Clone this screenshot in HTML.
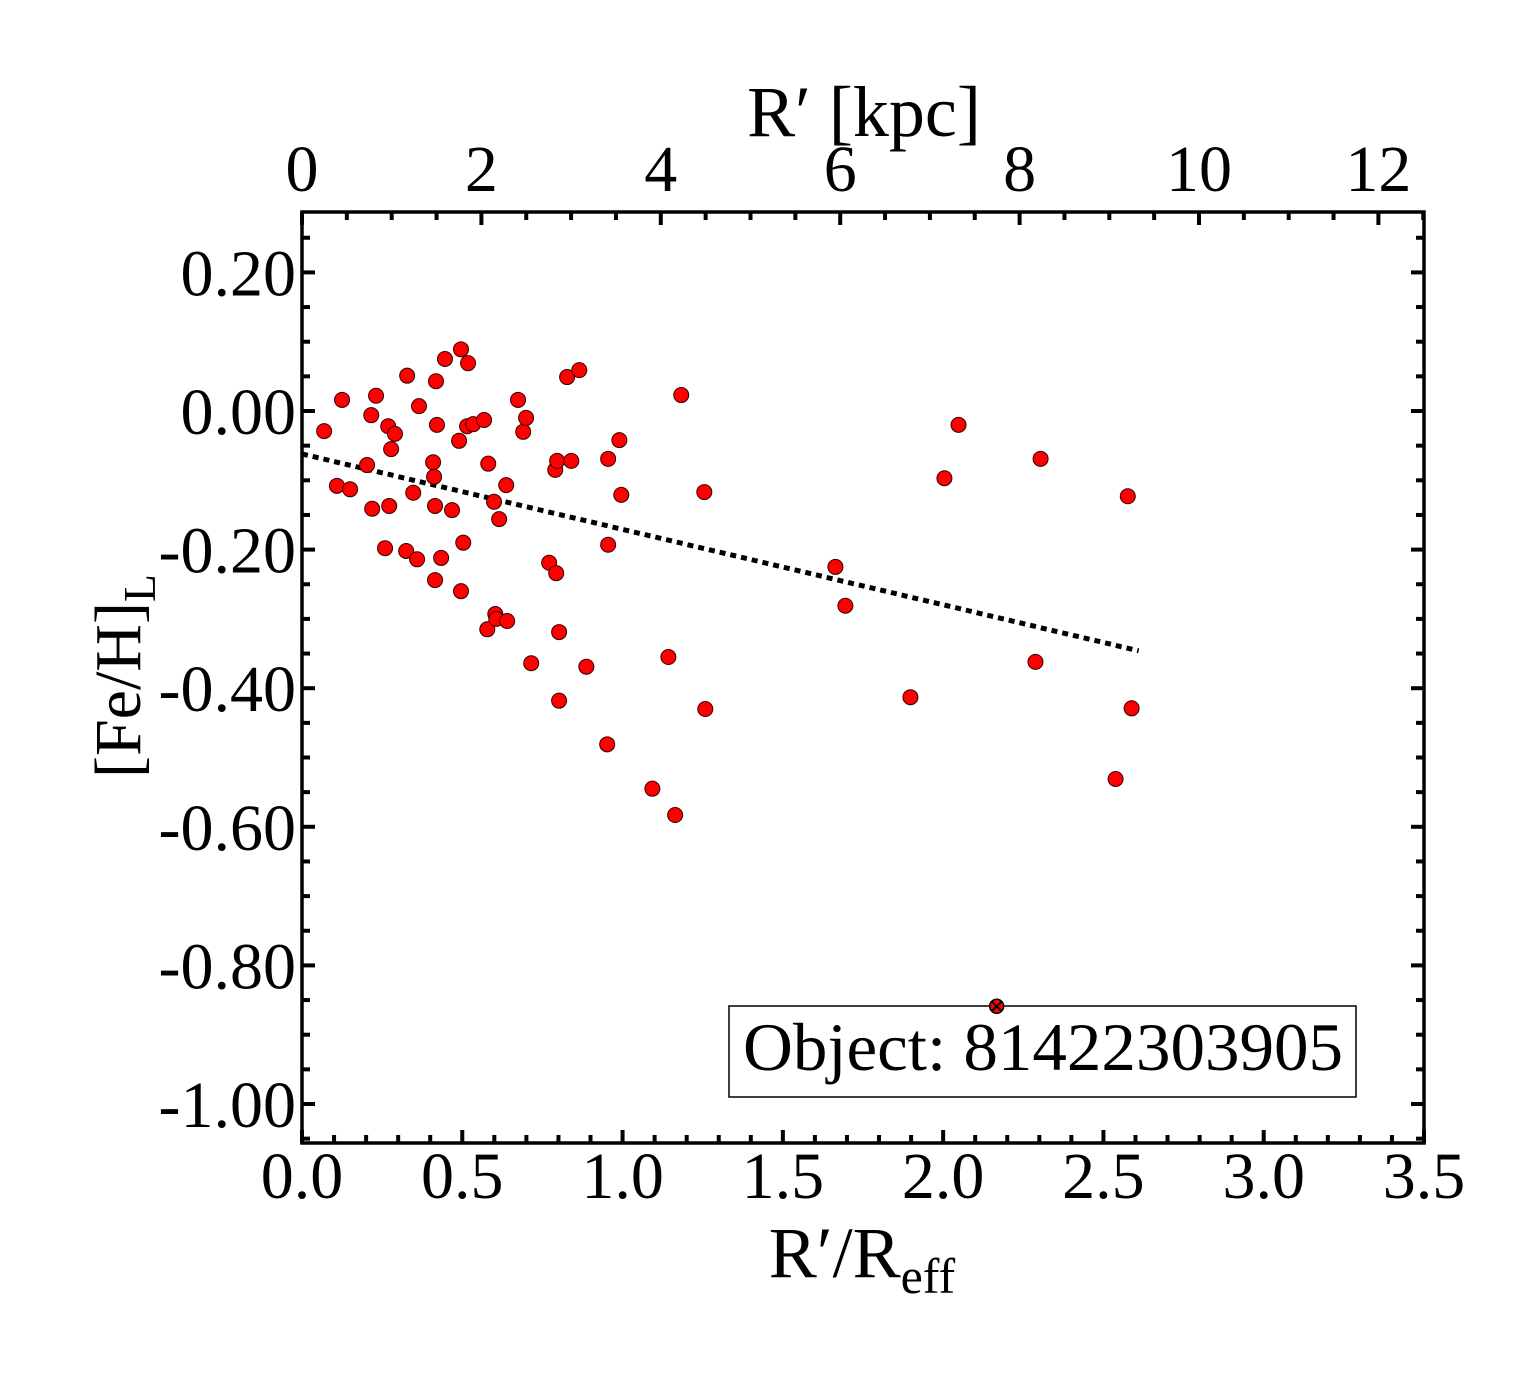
<!DOCTYPE html>
<html><head><meta charset="utf-8"><style>
html,body{margin:0;padding:0;background:#fff;}
svg{display:block;font-family:"Liberation Serif",serif;}
</style></head><body>
<svg id="chart" width="1540" height="1375" viewBox="0 0 1540 1375" xmlns="http://www.w3.org/2000/svg">
<rect width="1540" height="1375" fill="#fff"/>
<g id="ticks"></g>
<g id="labels" font-size="66" fill="#000"></g>
<g>
<rect x="729" y="1006" width="627" height="91" fill="#fff" stroke="#000" stroke-width="1.5"/>
<text x="743" y="1070" font-size="68" textLength="600" lengthAdjust="spacingAndGlyphs">Object: 81422303905</text>
</g>
<g id="trend"></g>
<g id="points"></g>
<rect x="302" y="212" width="1122" height="931" fill="none" stroke="#000" stroke-width="3.5"/>
<text x="864" y="136" font-size="72" text-anchor="middle">R′ [kpc]</text>
<text x="862" y="1277" font-size="72" text-anchor="middle">R′/R<tspan font-size="50" dy="16">eff</tspan></text>
<text transform="translate(140,676) rotate(-90)" font-size="66" text-anchor="middle">[Fe/H]<tspan font-size="46" dy="15">L</tspan></text>
</svg>
<script>
const xVals=[0.069,0.109,0.125,0.150,0.203,0.216,0.219,0.231,0.259,0.269,0.272,0.278,0.290,0.325,0.328,0.347,0.359,0.365,0.409,0.412,0.415,0.415,0.418,0.421,0.434,0.446,0.468,0.490,0.496,0.496,0.503,0.515,0.518,0.534,0.568,0.578,0.581,0.599,0.603,0.606,0.615,0.637,0.640,0.674,0.690,0.699,0.715,0.771,0.790,0.793,0.796,0.802,0.802,0.827,0.840,0.865,0.887,0.952,0.955,0.955,0.990,0.996,1.093,1.143,1.164,1.183,1.255,1.258,1.664,1.695,1.898,2.004,2.048,2.288,2.304,2.538,2.576,2.588];
const yVals=[-0.029,-0.108,0.016,-0.113,-0.078,-0.006,-0.141,0.022,-0.198,-0.022,-0.137,-0.055,-0.033,-0.202,0.051,-0.118,-0.214,0.007,-0.074,-0.095,-0.244,-0.137,0.043,-0.020,-0.212,0.075,-0.143,-0.043,0.089,-0.260,-0.190,-0.022,0.069,-0.019,-0.013,-0.315,-0.076,-0.131,-0.293,-0.300,-0.156,-0.107,-0.303,0.016,-0.030,-0.010,-0.364,-0.219,-0.085,-0.234,-0.072,-0.319,-0.418,0.049,-0.072,0.059,-0.369,-0.481,-0.069,-0.193,-0.042,-0.121,-0.545,-0.355,-0.583,0.023,-0.117,-0.430,-0.225,-0.281,-0.413,-0.097,-0.020,-0.362,-0.069,-0.531,-0.123,-0.429];
const outlierX=[2.167];
const outlierY=[-0.859];
const trendX=[0,2.61];
const trendY=[-0.062,-0.346];
const xTickLabels=["0.0","0.5","1.0","1.5","2.0","2.5","3.0","3.5"];
const topTickLabels=["0","2","4","6","8","10","12"];
const yTickLabels=["0.20","0.00","-0.20","-0.40","-0.60","-0.80","-1.00"];

const L=302,R=1424,T=212,B=1143;
const sx=v=>L+v*(R-L)/3.5;
const skpc=v=>L+v*89.7;
const sy=v=>411-v*693;
const NS="http://www.w3.org/2000/svg";
function mk(tag,attrs,parent){const e=document.createElementNS(NS,tag);for(const k in attrs)e.setAttribute(k,attrs[k]);parent.appendChild(e);return e;}
const tk=document.getElementById('ticks'),lb=document.getElementById('labels');
function tick(x1,y1,x2,y2){const l=mk('line',{x1:x1,y1:y1,x2:x2,y2:y2,stroke:'#000','stroke-width':4},tk);

}
for(let i=0;i<=35;i++){const x=sx(i*0.1);const len=i%5===0?13:8;tick(x,B,x,B-len);}
for(let i=0;i*0.5<=12.5;i++){const x=skpc(i*0.5);const len=i%4===0?13:8;tick(x,T,x,T+len);}
for(let i=-21;i<=5;i++){const v=i*0.05;const y=sy(v);if(y<T||y>B)continue;const len=i%4===0?13:8;tick(L,y,L+len,y);tick(R,y,R-len,y);}
xTickLabels.forEach(s=>{const t=mk('text',{x:sx(parseFloat(s)),y:1198,'text-anchor':'middle'},lb);t.textContent=s;

});
topTickLabels.forEach(s=>{const t=mk('text',{x:skpc(parseFloat(s)),y:191,'text-anchor':'middle'},lb);t.textContent=s;

});
yTickLabels.forEach(s=>{const t=mk('text',{x:296,y:sy(parseFloat(s))+23,'text-anchor':'end'},lb);t.textContent=s;

});
const tr=document.getElementById('trend');
const tl=mk('line',{x1:sx(trendX[0]),y1:sy(trendY[0]),x2:sx(trendX[1]),y2:sy(trendY[1]),stroke:'#000','stroke-width':5,'stroke-dasharray':'6 5'},tr);


const pg=document.getElementById('points');
xVals.forEach((x,i)=>{const c=mk('circle',{cx:sx(x),cy:sy(yVals[i]),r:7.5,fill:'#ff0000',stroke:'#330000','stroke-width':1},pg);

});
outlierX.forEach((x,i)=>{const cx=sx(x),cy=sy(outlierY[i]);
const c=mk('circle',{cx:cx,cy:cy,r:7,fill:'#ff0000',stroke:'#000','stroke-width':1.5},pg);


const p=mk('path',{d:`M${cx-5},${cy-5}L${cx+5},${cy+5}M${cx-5},${cy+5}L${cx+5},${cy-5}`,stroke:'#000','stroke-width':2},pg);

});
</script>
</body></html>
